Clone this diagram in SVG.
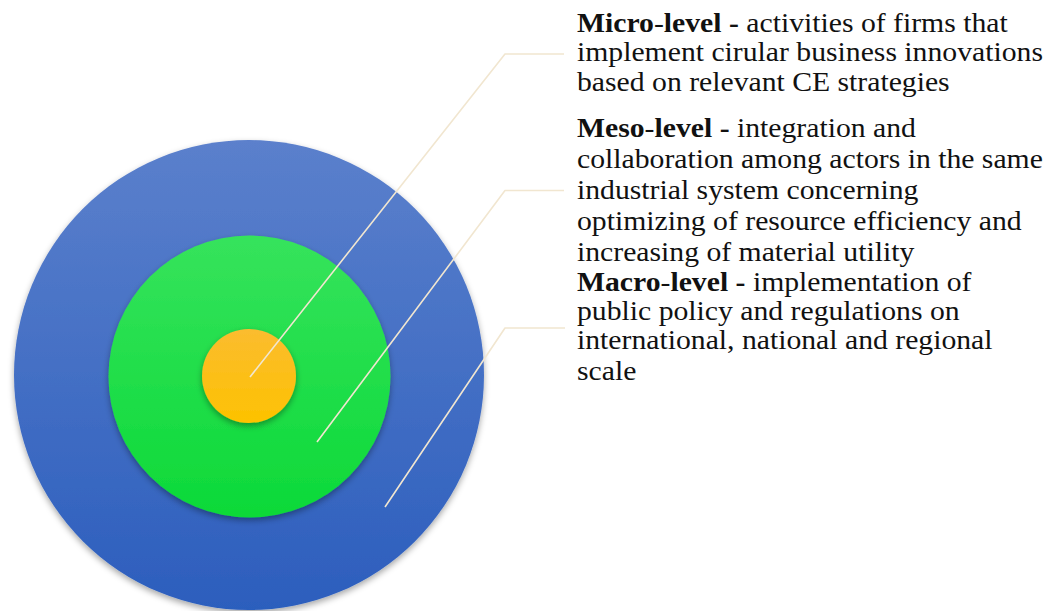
<svg xmlns="http://www.w3.org/2000/svg" width="1049" height="611" viewBox="0 0 1049 611">
  <style>
    .t { font-family: "Liberation Serif", "Times New Roman", serif; font-size: 27px; fill: #111; }
    .b { font-weight: bold; }
    .lead { fill: none; stroke: #f1e6d0; stroke-width: 1.6; stroke-linejoin: round; }
  </style>
  <defs>
    <linearGradient id="gBlue" x1="0" y1="0" x2="0" y2="1">
      <stop offset="0" stop-color="#5b80cc"/>
      <stop offset="1" stop-color="#2c5ebd"/>
    </linearGradient>
    <linearGradient id="gGreen" x1="0" y1="0" x2="0" y2="1">
      <stop offset="0" stop-color="#36e35c"/>
      <stop offset="1" stop-color="#0cd938"/>
    </linearGradient>
    <linearGradient id="gOrange" x1="0" y1="0" x2="0" y2="1">
      <stop offset="0" stop-color="#fbbc2f"/>
      <stop offset="1" stop-color="#fdc200"/>
    </linearGradient>
    <filter id="shadow" x="-10%" y="-10%" width="120%" height="125%">
      <feDropShadow dx="0" dy="3" stdDeviation="3" flood-color="#000" flood-opacity="0.35"/>
    </filter>
  </defs>

  <g id="macro-circle">
    <circle cx="249" cy="375" r="235" fill="url(#gBlue)" filter="url(#shadow)"/>
  </g>
  <g id="meso-circle">
    <circle cx="249.5" cy="376.5" r="141" fill="url(#gGreen)" filter="url(#shadow)"/>
  </g>
  <g id="micro-circle">
    <circle cx="249" cy="376" r="47" fill="url(#gOrange)" filter="url(#shadow)"/>
  </g>

  <g id="connectors">
    <polyline class="lead" points="250,377 505,54 564,54"/>
    <polyline class="lead" points="317,442 505,190.5 564,190.5"/>
    <polyline class="lead" points="385,507 505,328 565,328"/>
  </g>

  <g id="micro-label" transform="translate(577 0) scale(1.1 1)">
    <text class="t" x="0" y="32"><tspan class="b">Micro</tspan>-<tspan class="b">level -</tspan> activities of firms that</text>
    <text class="t" x="0" y="61.5">implement cirular business innovations</text>
    <text class="t" x="0" y="91.5">based on relevant CE strategies</text>
  </g>
  <g id="meso-label" transform="translate(577 0) scale(1.1 1)">
    <text class="t" x="0" y="137.5"><tspan class="b">Meso</tspan>-<tspan class="b">level -</tspan> integration and</text>
    <text class="t" x="0" y="168.5">collaboration among actors in the same</text>
    <text class="t" x="0" y="199">industrial system concerning</text>
    <text class="t" x="0" y="230">optimizing of resource efficiency and</text>
    <text class="t" x="0" y="261.5">increasing of material utility</text>
  </g>
  <g id="macro-label" transform="translate(577 0) scale(1.1 1)">
    <text class="t" x="0" y="291"><tspan class="b">Macro</tspan>-<tspan class="b">level -</tspan> implementation of</text>
    <text class="t" x="0" y="320">public policy and regulations on</text>
    <text class="t" x="0" y="349.5">international, national and regional</text>
    <text class="t" x="0" y="380">scale</text>
  </g>
</svg>
